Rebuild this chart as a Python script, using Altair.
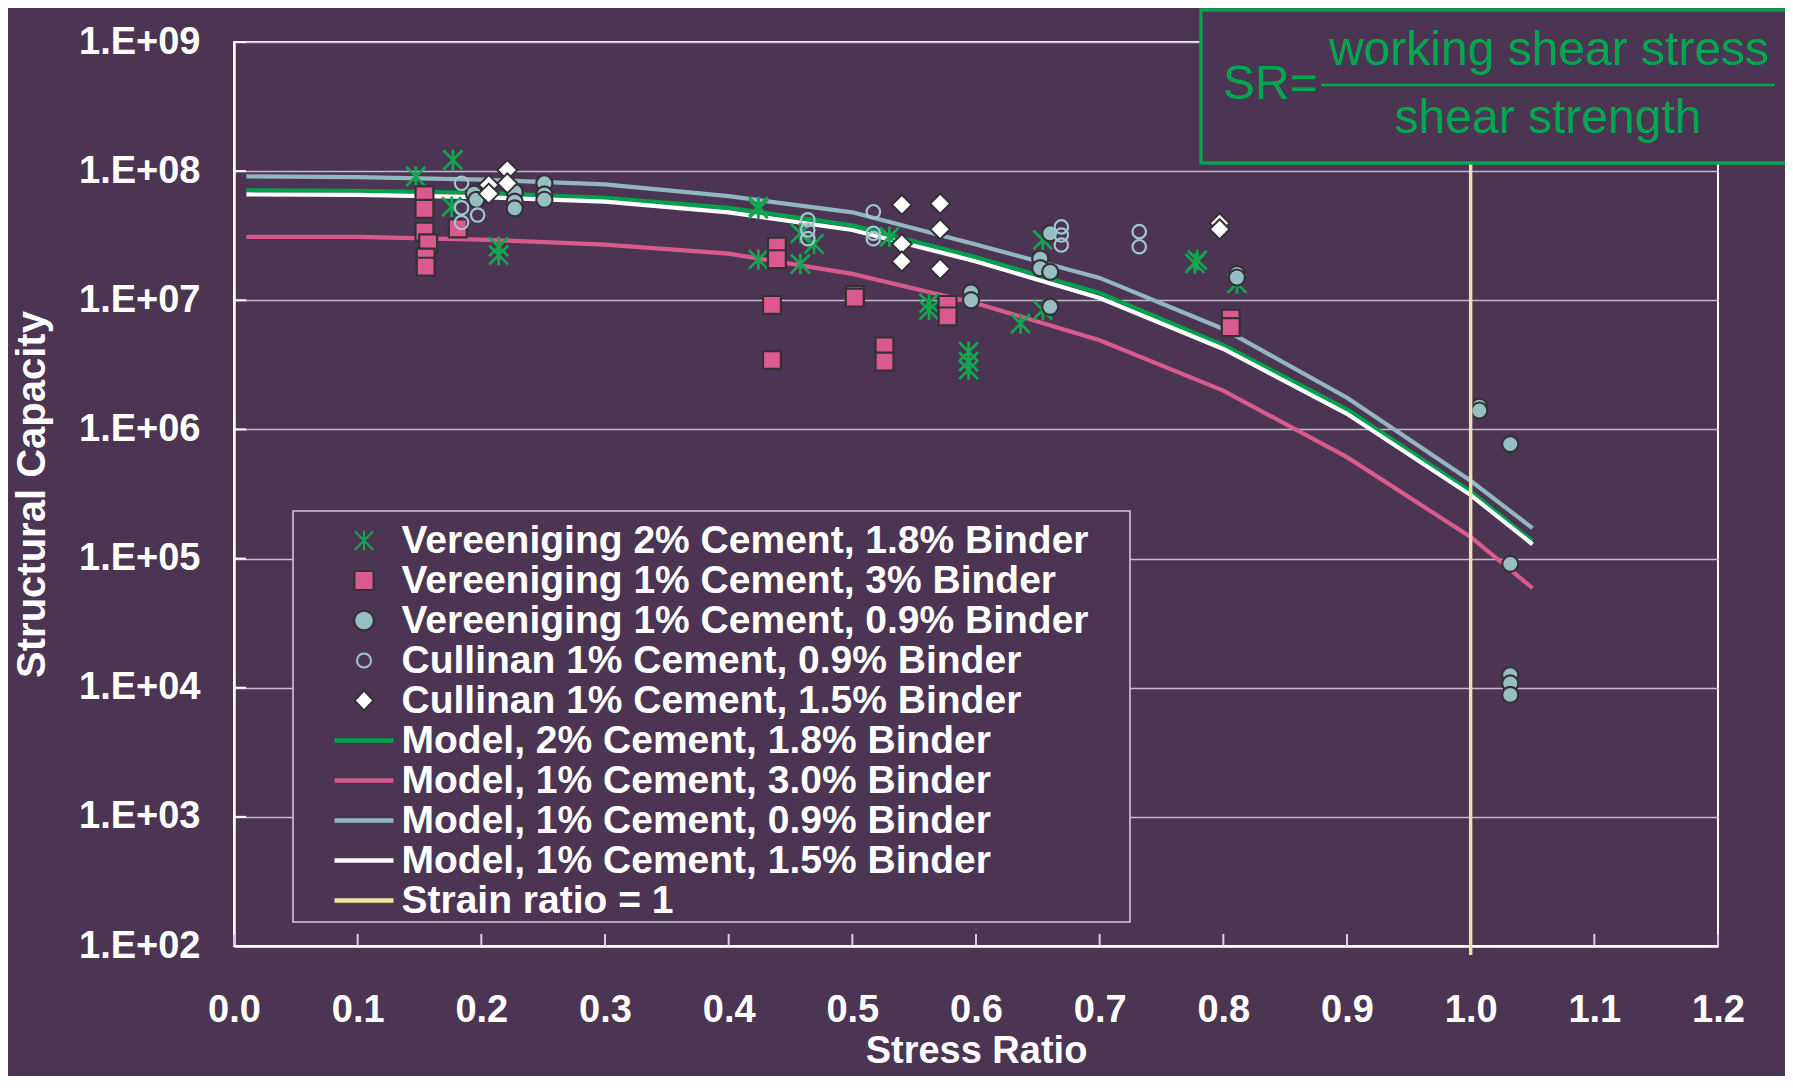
import json
import altair as alt
import pandas as pd

# ---------------- colours / fonts ----------------
BG = "#4B3552"
GREEN_PT = "#12A650"
GREEN_LN = "#00A14B"
PINK = "#DB5A8E"
PINK_LN = "#D95B8C"
TEAL = "#97BEC3"
TEAL_LN = "#93B7C0"
RING = "#A3C5D0"
WHITE = "#FFFFFF"
YELLOW = "#EAE79C"
DARK = "#353035"
SR_GREEN = "#00A650"
GRID = "#C6BBCB"
TICK = "#D8D0DC"
FONT = "Liberation Sans"
AST = "M0,-1L0,1M-0.92,-0.92L0.92,0.92M-0.92,0.92L0.92,-0.92"

SERIES = [
    "Vereeniging 2% Cement, 1.8% Binder",
    "Vereeniging 1% Cement, 3% Binder",
    "Vereeniging 1% Cement, 0.9% Binder",
    "Cullinan 1% Cement, 0.9% Binder",
    "Cullinan 1% Cement, 1.5% Binder",
    "Model, 2% Cement, 1.8% Binder",
    "Model, 1% Cement, 3.0% Binder",
    "Model, 1% Cement, 0.9% Binder",
    "Model, 1% Cement, 1.5% Binder",
    "Strain ratio = 1",
]
STROKES = [GREEN_PT, DARK, DARK, RING, DARK, GREEN_LN, PINK_LN, TEAL_LN, WHITE, YELLOW]

# ---------------- data ----------------
X_TICKS = [0.0, 0.1, 0.2, 0.3, 0.4, 0.5, 0.6, 0.7, 0.8, 0.9, 1.0, 1.1, 1.2]
Y_TICKS = [1e2, 1e3, 1e4, 1e5, 1e6, 1e7, 1e8, 1e9]

# Vereeniging 2% Cement, 1.8% Binder (asterisks)
V2_X = [0.147, 0.177, 0.176, 0.214, 0.214, 0.424, 0.424, 0.458, 0.458, 0.469, 0.424,
        0.530, 0.562, 0.562, 0.594, 0.594, 0.594, 0.654, 0.654, 0.636, 0.777, 0.779, 0.811]
V2_Y = [9.1e7, 1.22e8, 5.3e7, 2.6e7, 2.24e7, 5.1e7, 5.3e7, 3.3e7, 1.91e7, 2.73e7, 2.07e7,
        3.1e7, 9.5e6, 8.4e6, 4.0e6, 3.35e6, 2.9e6, 2.93e7, 8.4e6, 6.6e6, 1.93e7, 2.05e7, 1.35e7]

# Vereeniging 1% Cement, 3% Binder (squares)
V13_X = [0.154, 0.154, 0.154, 0.157, 0.155, 0.155, 0.181, 0.439, 0.439, 0.435, 0.435,
         0.502, 0.502, 0.526, 0.526, 0.577, 0.577, 0.806, 0.806]
V13_Y = [6.5e7, 5.1e7, 3.4e7, 2.76e7, 2.14e7, 1.82e7, 3.6e7, 2.6e7, 2.08e7, 9.2e6, 3.45e6,
         1.1e7, 1.05e7, 4.4e6, 3.35e6, 9.2e6, 7.5e6, 7.2e6, 6.2e6]

# Vereeniging 1% Cement, 0.9% Binder (filled circles)
V09_X = [0.194, 0.196, 0.227, 0.227, 0.227, 0.251, 0.251, 0.251, 0.596, 0.596, 0.660,
         0.652, 0.652, 0.660, 0.660, 0.811, 0.811, 1.007, 1.007, 1.032, 1.032, 1.032,
         1.032, 1.032]
V09_Y = [6.7e7, 6.0e7, 6.9e7, 5.8e7, 5.15e7, 8.05e7, 6.6e7, 6.0e7, 1.15e7, 1.0e7, 3.3e7,
         2.1e7, 1.77e7, 1.66e7, 8.9e6, 1.6e7, 1.5e7, 1.5e6, 1.4e6, 7.7e5, 9.1e4, 1.25e4,
         1.08e4, 8.8e3]

# Cullinan 1% Cement, 0.9% Binder (open circles)
C09_X = [0.184, 0.184, 0.184, 0.197, 0.464, 0.464, 0.464, 0.517, 0.517, 0.517, 0.669,
         0.669, 0.669, 0.732, 0.732]
C09_Y = [8.05e7, 5.2e7, 4.0e7, 4.57e7, 4.2e7, 3.5e7, 3.0e7, 4.85e7, 3.3e7, 3.0e7, 3.7e7,
         3.2e7, 2.68e7, 3.4e7, 2.6e7]

# Cullinan 1% Cement, 1.5% Binder (diamonds)
C15_X = [0.221, 0.221, 0.206, 0.206, 0.540, 0.571, 0.571, 0.540, 0.540, 0.571, 0.797, 0.797]
C15_Y = [1.02e8, 8.05e7, 7.8e7, 6.7e7, 5.5e7, 5.6e7, 3.55e7, 2.73e7, 2.0e7, 1.75e7, 3.95e7, 3.55e7]

# Model curves
MODEL_X = [0.01, 0.1, 0.2, 0.3, 0.4, 0.5, 0.6, 0.7, 0.8, 0.9, 1.0, 1.05]
M_2_18 = [7.1e7, 7.05e7, 6.8e7, 6.2e7, 5.2e7, 3.8e7, 2.15e7, 1.14e7, 4.5e6, 1.43e6, 3.3e5, 1.36e5]
M_1_30 = [3.1e7, 3.1e7, 2.95e7, 2.7e7, 2.3e7, 1.6e7, 9.5e6, 4.9e6, 2.0e6, 6.1e5, 1.47e5, 5.9e4]
M_1_09 = [9.1e7, 9.0e7, 8.6e7, 7.9e7, 6.4e7, 4.8e7, 2.7e7, 1.49e7, 6.0e6, 1.76e6, 4.0e5, 1.72e5]
M_1_15 = [6.6e7, 6.55e7, 6.3e7, 5.8e7, 4.8e7, 3.5e7, 2.0e7, 1.04e7, 4.2e6, 1.32e6, 3.1e5, 1.29e5]

STRAIN_X = [1.0]
STRAIN_Y = [85.0]
STRAIN_Y2 = [1e9]

# inside tick marks (axis ticks point into the plot)
XTICK_Y0, XTICK_Y1 = 100.0, 124.0      # bottom axis ticks, about 12 px tall
YTICK_X0, YTICK_X1 = 0.0, 0.0097       # left axis ticks, about 12 px long

# ---------------- frames ----------------
def pts(xs, ys, name):
    return pd.DataFrame({"x": xs, "y": ys, "series": name})

df_v2 = pts(V2_X, V2_Y, SERIES[0])
df_v13 = pts(V13_X, V13_Y, SERIES[1])
df_v09 = pts(V09_X, V09_Y, SERIES[2])
df_c09 = pts(C09_X, C09_Y, SERIES[3])
df_c15 = pts(C15_X, C15_Y, SERIES[4])
df_models = pd.concat([
    pts(MODEL_X, M_2_18, SERIES[5]),
    pts(MODEL_X, M_1_30, SERIES[6]),
    pts(MODEL_X, M_1_09, SERIES[7]),
    pts(MODEL_X, M_1_15, SERIES[8]),
])
df_strain = pd.DataFrame({"x": STRAIN_X, "y": STRAIN_Y, "y2": STRAIN_Y2, "series": SERIES[9]})
df_xt = pd.DataFrame({"x": X_TICKS, "y": XTICK_Y0, "y2": XTICK_Y1})
df_yt = pd.DataFrame({"x": YTICK_X0, "x2": YTICK_X1, "y": Y_TICKS})
one = pd.DataFrame({"a": [0]})

# ---------------- legend styling ----------------
L_AST = AST
L_SQ = "M-0.95,-0.95L0.95,-0.95L0.95,0.95L-0.95,0.95Z"
L_CIRC = "M0.98,0A0.98,0.98,0,1,1,-0.98,0A0.98,0.98,0,1,1,0.98,0Z"
L_RING = "M0.7,0A0.7,0.7,0,1,1,-0.7,0A0.7,0.7,0,1,1,0.7,0Z"
L_DIA = "M0,-1L0.95,0L0,1L-0.95,0Z"
L_LINE = "M-2.85,-0.12L2.85,-0.12L2.85,0.12L-2.85,0.12Z"
LEG_SHAPE = [L_AST, L_SQ, L_CIRC, L_RING, L_DIA, L_LINE, L_LINE, L_LINE, L_LINE, L_LINE]
LEG_FILL = ["transparent", PINK, TEAL, "transparent", WHITE,
            GREEN_LN, PINK_LN, TEAL_LN, WHITE, YELLOW]
DOM_JS = json.dumps(SERIES)


def pick(lst):
    return alt.ExprRef(expr=f"{json.dumps(lst)}[indexof({DOM_JS}, datum.value)]")


LEGEND = alt.Legend(
    title=None, orient="none", legendX=110.5, legendY=479, padding=0,
    labelFont=FONT, labelFontSize=39, labelFontWeight="bold", labelColor=WHITE,
    labelLimit=2000, labelOffset=18, symbolOffset=0, rowPadding=0,
    symbolSize=400, symbolStrokeWidth=2, symbolOpacity=1,
    symbolType=pick(LEG_SHAPE), symbolFillColor=pick(LEG_FILL),
)

# Only the model-line layer uses the series scale; it carries the legend for all ten entries.
STROKE_LEG = alt.Stroke("series:N", scale=alt.Scale(domain=SERIES, range=STROKES), legend=LEGEND)

X_ENC = alt.X(
    "x:Q",
    scale=alt.Scale(domain=[0, 1.2], nice=False, zero=False),
    axis=alt.Axis(
        values=X_TICKS, format=".1f", grid=False, labelFlush=False, labelOverlap=False,
        labelFont=FONT, labelFontSize=38, labelFontWeight="bold", labelColor=WHITE,
        ticks=False, labelPadding=45,
        domainColor=WHITE, domainWidth=2.5,
        title="Stress Ratio", titleFont=FONT, titleFontSize=38, titleFontWeight="bold",
        titleColor=WHITE, titleBaseline="top", titleY=86,
    ),
)
Y_ENC = alt.Y(
    "y:Q",
    scale=alt.Scale(type="log", domain=[1e2, 1e9], nice=False),
    axis=alt.Axis(
        values=Y_TICKS, labelExpr="'1.E+0' + round(log(datum.value) / LN10)",
        grid=True, gridColor=GRID, gridWidth=1.4, labelOverlap=False, labelFlush=False,
        labelFont=FONT, labelFontSize=38, labelFontWeight="bold", labelColor=WHITE,
        ticks=False, labelPadding=34,
        domainColor=WHITE, domainWidth=2.5,
        title="Structural Capacity", titleFont=FONT, titleFontSize=40,
        titleFontWeight="bold", titleColor=WHITE, titleX=-202, titleY=452,
        titleAngle=270, titleAlign="center", titleBaseline="middle",
    ),
)

# ---------------- layers ----------------
legend_box = alt.Chart(one).mark_rect(fill=BG, stroke="#CFC7D3", strokeWidth=1.6).encode(
    x=alt.value(59), x2=alt.value(896), y=alt.value(469), y2=alt.value(880))

xticks = alt.Chart(df_xt).mark_rule(stroke=TICK, strokeWidth=2).encode(
    x=X_ENC, y=Y_ENC, y2="y2:Q")
yticks = alt.Chart(df_yt).mark_rule(stroke=WHITE, strokeWidth=2).encode(
    x=X_ENC, x2="x2:Q", y=Y_ENC)

lines = alt.Chart(df_models).mark_line(strokeWidth=4.2).encode(
    x=X_ENC, y=Y_ENC, stroke=STROKE_LEG)

ast = alt.Chart(df_v2).mark_point(shape=AST, filled=False, size=420, strokeWidth=2.7,
                                  opacity=1, stroke=GREEN_PT).encode(x=X_ENC, y=Y_ENC)

squares = alt.Chart(df_v13).mark_point(shape="square", filled=True, fill=PINK, size=320,
                                       strokeWidth=2.2, opacity=1, stroke=DARK).encode(x=X_ENC, y=Y_ENC)

fcirc = alt.Chart(df_v09).mark_point(shape="circle", filled=True, fill=TEAL, size=260,
                                     strokeWidth=2.2, opacity=1, stroke=DARK).encode(x=X_ENC, y=Y_ENC)

ocirc = alt.Chart(df_c09).mark_point(shape="circle", filled=False, size=180, strokeWidth=2.2,
                                     opacity=1, stroke=RING).encode(x=X_ENC, y=Y_ENC)

diam = alt.Chart(df_c15).mark_point(shape="diamond", filled=True, fill=WHITE, size=400,
                                    strokeWidth=2, opacity=1, stroke=DARK).encode(x=X_ENC, y=Y_ENC)

strain = alt.Chart(df_strain).mark_rule(strokeWidth=3.4, stroke=YELLOW).encode(
    x=X_ENC, y=Y_ENC, y2="y2:Q")

sr_box = alt.Chart(one).mark_rect(fill=BG, stroke=SR_GREEN, strokeWidth=3.3).encode(
    x=alt.value(967), x2=alt.value(1700), y=alt.value(-32), y2=alt.value(121))

sr_line = alt.Chart(one).mark_rule(stroke=SR_GREEN, strokeWidth=2.4).encode(
    x=alt.value(1087), x2=alt.value(1541), y=alt.value(43))

sr_t0 = alt.Chart(one).mark_text(text="SR=", font=FONT, fontSize=48, color=SR_GREEN,
                                 align="left", baseline="alphabetic").encode(
    x=alt.value(989), y=alt.value(57))
sr_t1 = alt.Chart(one).mark_text(text="working shear stress", font=FONT, fontSize=48,
                                 color=SR_GREEN, align="center", baseline="alphabetic").encode(
    x=alt.value(1315), y=alt.value(23))
sr_t2 = alt.Chart(one).mark_text(text="shear strength", font=FONT, fontSize=48,
                                 color=SR_GREEN, align="center", baseline="alphabetic").encode(
    x=alt.value(1314), y=alt.value(91))

chart = alt.layer(
    legend_box, xticks, yticks, lines, ast, squares, fcirc, ocirc, diam, strain,
    sr_box, sr_line, sr_t0, sr_t1, sr_t2,
).properties(
    width=1484, height=904,
    padding={"left": 226, "top": 34, "right": 67, "bottom": 130},
    autosize=alt.AutoSizeParams(type="none"),
    background=BG,
).configure_view(stroke=WHITE, strokeWidth=2)

chart.save("out.html", embed_options={"renderer": "svg", "actions": False})
